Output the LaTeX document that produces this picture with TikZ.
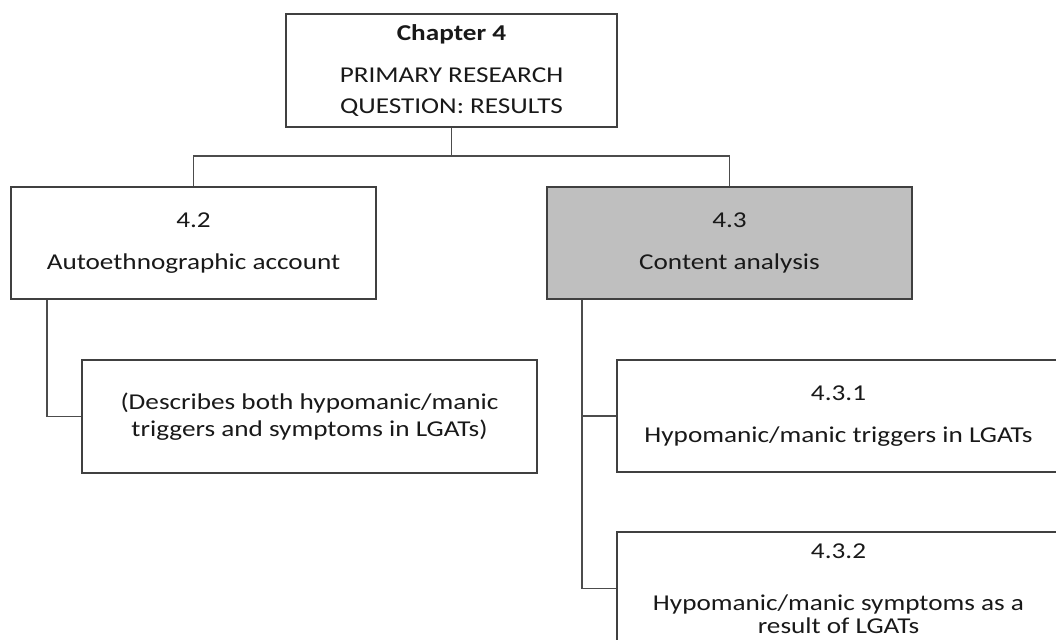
\documentclass[tikz,border=0pt]{standalone}
\usepackage{fontspec}
\setmainfont{Carlito}[FakeStretch=1.2]
\usetikzlibrary{positioning}

\begin{document}
\begin{tikzpicture}
[x=0.75pt,y=-0.75pt,
 box/.style={draw=black!75,line width=1.1pt,fill=white,text=black!90,align=center,
   inner sep=0pt,font=\fontsize{17}{17}\selectfont},
 shaded/.style={box,fill=black!25},
 link/.style={draw=black!70,line width=1.1pt}]

\useasboundingbox (0,0) rectangle (1056,639);
\clip (0,0) rectangle (1056,639);

% chapter and its two sections
\node[box, minimum width=248pt, minimum height=85pt] (chap) at (451.5,70.5)
	{\textbf{Chapter 4}\\[14.5pt]PRIMARY RESEARCH\\[6.25pt]QUESTION: RESULTS};
\node[box, minimum width=274pt, minimum height=84pt] (acct) at (193.5,243)
	{4.2\\[14.5pt]Autoethnographic account};
\node[shaded, minimum width=274pt, minimum height=84pt] (cont) at (729.5,243)
	{4.3\\[14.5pt]Content analysis};

% sub boxes
\node[box, minimum width=341pt, minimum height=85pt] (desc) at (309.5,416.5)
	{(Describes both hypomanic/manic\\[3.6pt]triggers and symptoms in LGATs)};
\node[box, minimum width=332pt, minimum height=84pt] (trig) at (838.5,416)
	{4.3.1\\[14.5pt]Hypomanic/manic triggers in LGATs};
\node[box, minimum width=332pt, minimum height=85pt] (symp) at (838.5,588.5)
	{4.3.2\\[22pt]Hypomanic/manic symptoms as a\\result of LGATs};

\coordinate (bus) at (451.5,156);
\coordinate (acctfoot) at ([xshift=27.75pt]acct.south west);
\coordinate (contfoot) at ([xshift=27pt]cont.south west);

\path[link]
	(chap.south) -- (bus)
	(acct.north) |- (bus) -| (cont.north)
	(acctfoot) |- (desc.west)
	(contfoot) |- (trig.west)
	(contfoot) |- (symp.west);
\end{tikzpicture}
\end{document}
